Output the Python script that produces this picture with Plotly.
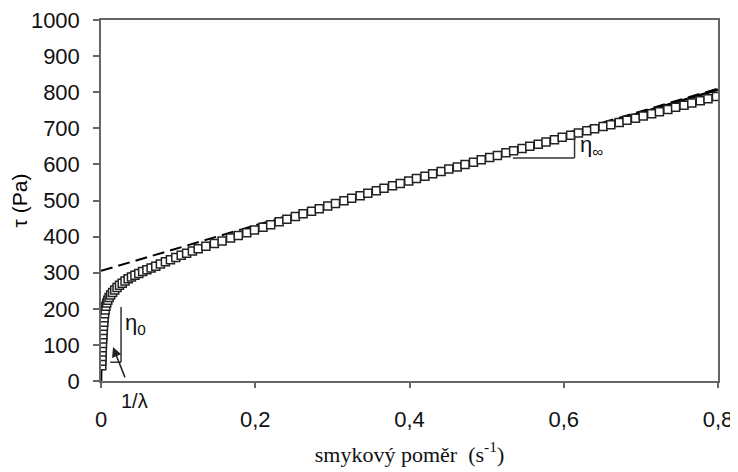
import plotly.graph_objects as go

# measured data (open squares)
meas_x = [0.0010, 0.0011, 0.0013, 0.0015, 0.0017, 0.0019, 0.0022, 0.0025, 0.0028, 0.0032,
          0.0036, 0.0041, 0.0047, 0.0054, 0.0063, 0.0074, 0.0088, 0.0105, 0.0125, 0.0150,
          0.0178, 0.0208, 0.0240, 0.0275, 0.0312, 0.0352, 0.0395, 0.0440, 0.0490, 0.0540,
          0.0595, 0.0650, 0.0710, 0.0770, 0.0835, 0.0900, 0.0970, 0.1040, 0.1110, 0.1185,
          0.1260, 0.136, 0.147, 0.157, 0.168, 0.178, 0.189, 0.199, 0.210, 0.220,
          0.231, 0.241, 0.252, 0.262, 0.273, 0.283, 0.294, 0.304, 0.315, 0.325,
          0.336, 0.346, 0.357, 0.367, 0.378, 0.388, 0.399, 0.409, 0.420, 0.430,
          0.441, 0.451, 0.462, 0.472, 0.483, 0.493, 0.504, 0.514, 0.525, 0.535,
          0.546, 0.556, 0.567, 0.577, 0.588, 0.598, 0.609, 0.619, 0.630, 0.640,
          0.651, 0.661, 0.672, 0.682, 0.693, 0.703, 0.714, 0.724, 0.735, 0.745,
          0.756, 0.766, 0.777, 0.787, 0.798]
meas_y = [42, 55, 68, 80, 92, 104, 116, 128, 140, 152,
          163, 175, 186, 197, 207, 216, 224, 231, 238, 245,
          252, 259, 265, 271, 277, 283, 288, 293, 298, 303,
          308, 313, 318, 324, 330, 336, 342, 348, 354, 360,
          366, 373, 381, 388, 396, 403, 411, 418, 426, 433,
          441, 448, 456, 463, 470, 477, 485, 492, 499, 506,
          513, 520, 527, 534, 541, 547, 554, 561, 567, 574,
          580, 587, 593, 600, 606, 613, 619, 625, 632, 638,
          644, 650, 656, 662, 668, 675, 681, 687, 693, 699,
          705, 710, 716, 722, 728, 734, 740, 746, 752, 758,
          764, 770, 776, 782, 788]

# model fit (solid line)
model_x = [0.0, 0.0005, 0.0015, 0.003, 0.006, 0.010, 0.015, 0.020, 0.030, 0.040,
           0.050, 0.070, 0.100, 0.150, 0.200, 0.250, 0.300, 0.400, 0.500, 0.600,
           0.700, 0.800]
model_y = [0, 60, 120, 160, 195, 228, 252, 268, 288, 300,
           310, 327, 346, 381, 417, 452, 487, 552, 616, 680,
           743, 807]

# high-shear asymptote (dashed line)
asym_x = [0.0, 0.8]
asym_y = [305, 810]

x_tickvals = [0, 0.2, 0.4, 0.6, 0.8]
x_ticktext = ["0", "0,2", "0,4", "0,6", "0,8"]
y_tickvals = [0, 100, 200, 300, 400, 500, 600, 700, 800, 900, 1000]

SANS = "Liberation Sans, Arial"
SERIF = "Liberation Serif, Times New Roman"
INK = "#111111"

fig = go.Figure()
fig.add_trace(go.Scatter(x=model_x, y=model_y, mode="lines",
                         line=dict(color="black", width=2.5, shape="spline", smoothing=0.6),
                         showlegend=False))
fig.add_trace(go.Scatter(x=asym_x, y=asym_y, mode="lines",
                         line=dict(color="black", width=2, dash="12px,6px"),
                         showlegend=False))
fig.add_trace(go.Scatter(x=meas_x, y=meas_y, mode="markers",
                         marker=dict(symbol="square", size=8, color="white",
                                     line=dict(color="#222", width=1.5)),
                         showlegend=False))

line_style = dict(color="#333", width=1.5)
# eta_0 triangle
fig.add_shape(type="line", x0=0.026, y0=52, x1=0.026, y1=205, line=line_style)
fig.add_shape(type="line", x0=0.012, y0=52, x1=0.026, y1=52, line=line_style)
# eta_inf triangle
fig.add_shape(type="line", x0=0.534, y0=618, x1=0.614, y1=618, line=line_style)
fig.add_shape(type="line", x0=0.614, y0=618, x1=0.614, y1=681, line=line_style)

fig.add_annotation(x=0.0156, y=94, ax=0.035, ay=-11, axref="x", ayref="y",
                   xref="x", yref="y", showarrow=True, arrowhead=2, arrowsize=1.3,
                   arrowwidth=1.5, arrowcolor="#222", text=" ")
fig.add_annotation(x=0.043, y=-0.055, xref="x", yref="paper", yanchor="middle",
                   text="1/λ", showarrow=False,
                   font=dict(family=SANS, size=20, color=INK))
fig.add_annotation(x=0.028, y=158, xref="x", yref="y", text="η<sub>0</sub>", showarrow=False,
                   xanchor="left", font=dict(family=SANS, size=22, color=INK))
fig.add_annotation(x=0.618, y=652, xref="x", yref="y", text="η<sub>∞</sub>", showarrow=False,
                   xanchor="left", font=dict(family=SANS, size=22, color=INK))

axis_common = dict(showgrid=False, zeroline=False, showline=True, linecolor="#666",
                   linewidth=1.5, mirror=True, ticks="outside", tickcolor="#666",
                   tickwidth=1.5, automargin=False, ticklabeloverflow="allow",
                   tickfont=dict(family=SANS, size=22, color=INK))

fig.update_xaxes(range=[0, 0.8], tickvals=x_tickvals, ticktext=x_ticktext, ticklen=5,
                 ticklabelstandoff=13,
                 title=dict(text="smykový poměr  (s<sup>-1</sup>)",
                            font=dict(family=SERIF, size=22, color=INK)),
                 **axis_common)
fig.update_yaxes(range=[0, 1000], tickvals=y_tickvals, ticklen=6, ticklabelstandoff=9,
                 title=dict(text="τ (Pa)",
                            font=dict(family=SANS, size=21, color="black")),
                 **axis_common)

# the page body adds an 8 px offset, so the figure is 730x464 with margins shifted
fig.update_layout(width=730, height=464, margin=dict(l=93, r=20, t=12, b=91),
                  plot_bgcolor="white", paper_bgcolor="white")

fig.write_html("out.html")
